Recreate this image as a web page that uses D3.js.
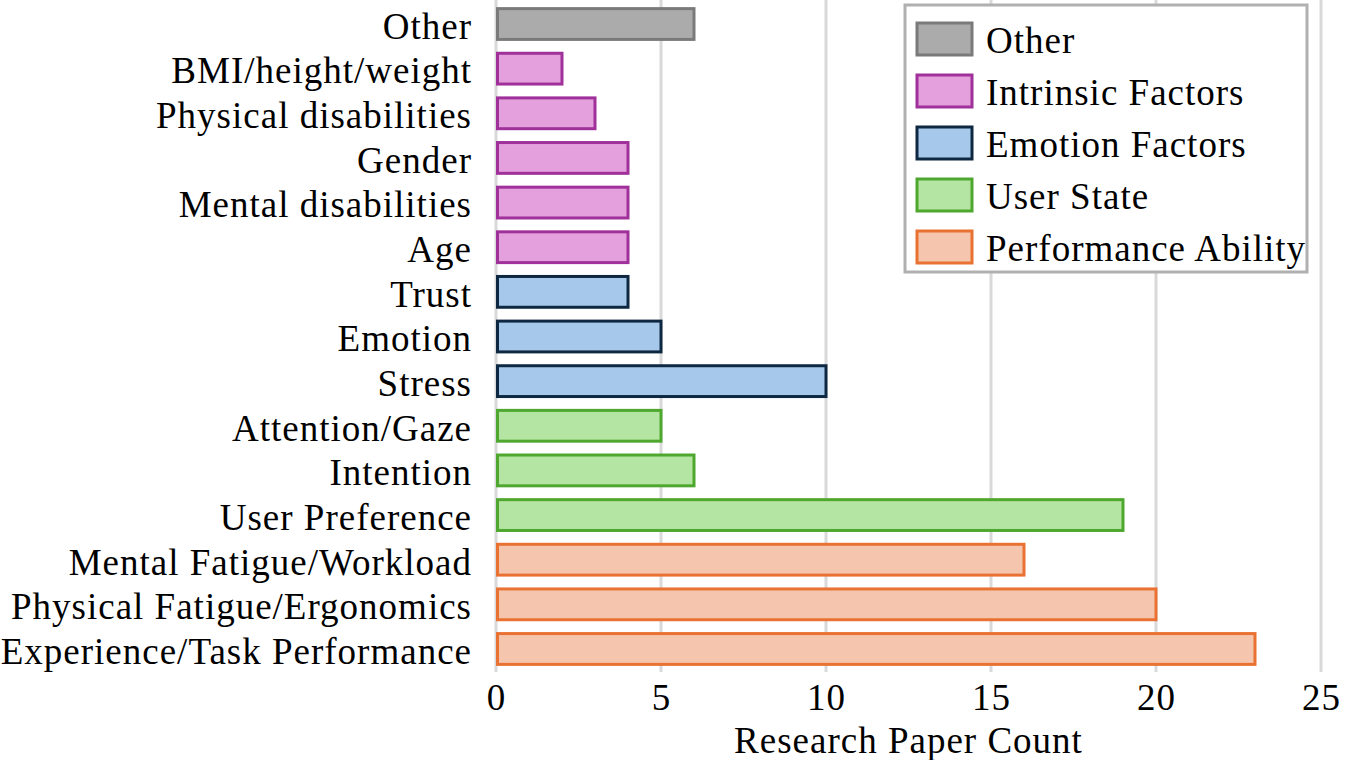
<!DOCTYPE html>
<html><head><meta charset="utf-8">
<script src="https://cdn.jsdelivr.net/npm/d3@7"></script>
<style>body{margin:0;background:#fff}svg{display:block}text{font-family:"Liberation Serif","Times New Roman",serif;fill:#000;letter-spacing:1px}</style>
</head><body><svg id="c" width="1347" height="760"></svg>
<script>
const categories = ["Other","BMI/height/weight","Physical disabilities","Gender","Mental disabilities","Age","Trust","Emotion","Stress","Attention/Gaze","Intention","User Preference","Mental Fatigue/Workload","Physical Fatigue/Ergonomics","Experience/Task Performance"];
const values = [6,2,3,4,4,4,4,5,10,5,6,19,16,20,23];
const groups = ["Other","Intrinsic Factors","Intrinsic Factors","Intrinsic Factors","Intrinsic Factors","Intrinsic Factors","Emotion Factors","Emotion Factors","Emotion Factors","User State","User State","User State","Performance Ability","Performance Ability","Performance Ability"];
const legendGroups = ["Other","Intrinsic Factors","Emotion Factors","User State","Performance Ability"];
const fills = ["#ababab","#e4a0dc","#a6c9eb","#b5e5a2","#f5c6ad"];
const strokes = ["#7a7a7a","#a0309a","#0e2841","#4ea72e","#e97132"];
const xTicks = [0,5,10,15,20,25];
const xTitle = "Research Paper Count";

const FS = 37;
const svg = d3.select("#c");
const x = d3.scaleLinear().domain([0,25]).range([496,1321]);
const y = d3.scaleBand().domain(categories).range([1.7,671.3]).paddingInner(0.31).paddingOuter(0.155);
const fillS = d3.scaleOrdinal().domain(legendGroups).range(fills);
const strokeS = d3.scaleOrdinal().domain(legendGroups).range(strokes);

// gridlines
svg.append("g").selectAll("line").data(xTicks).join("line")
  .attr("x1",d=>x(d)).attr("x2",d=>x(d)).attr("y1",0).attr("y2",672)
  .attr("stroke","#d9d9d9").attr("stroke-width",3);

// bars
const data = categories.map((c,i)=>({c,v:values[i],g:groups[i]}));
svg.append("g").selectAll("rect").data(data).join("rect")
  .attr("x",x(0)+1.5).attr("y",d=>y(d.c)).attr("width",d=>x(d.v)-x(0)-1.5).attr("height",y.bandwidth())
  .attr("fill",d=>fillS(d.g)).attr("stroke",d=>strokeS(d.g)).attr("stroke-width",3);

// category labels
const yAxis = d3.axisLeft(y).tickSize(0).tickPadding(0);
const ya = svg.append("g").attr("transform","translate(472,0)").call(yAxis);
ya.select(".domain").remove();
ya.selectAll("text").attr("font-size",FS).attr("dy","0.4em").style("font-family",'"Liberation Serif",serif').attr("fill","#000");

// x axis labels
const xAxis = d3.axisBottom(x).tickValues(xTicks).tickSize(0).tickPadding(0);
const xa = svg.append("g").attr("transform","translate(0,697)").call(xAxis);
xa.select(".domain").remove();
xa.selectAll("text").attr("font-size",FS).attr("dy","0.36em").style("font-family",'"Liberation Serif",serif').attr("fill","#000");

svg.append("text").attr("x",(x(0)+x(25))/2).attr("y",740).attr("dy","0.36em")
  .attr("text-anchor","middle").attr("font-size",FS).text(xTitle);

// legend
const lg = svg.append("g");
lg.append("rect").attr("x",905).attr("y",5).attr("width",402).attr("height",267)
  .attr("fill","#fff").attr("stroke","#b0b0b0").attr("stroke-width",3);
const li = lg.selectAll("g.item").data(legendGroups).join("g").attr("class","item")
  .attr("transform",(d,i)=>`translate(0,${39 + i*52})`);
li.append("rect").attr("x",917).attr("y",-16).attr("width",55).attr("height",32)
  .attr("fill",d=>fillS(d)).attr("stroke",d=>strokeS(d)).attr("stroke-width",3);
li.append("text").attr("x",986).attr("y",0).attr("dy","0.38em").attr("font-size",FS).text(d=>d);
</script></body></html>
